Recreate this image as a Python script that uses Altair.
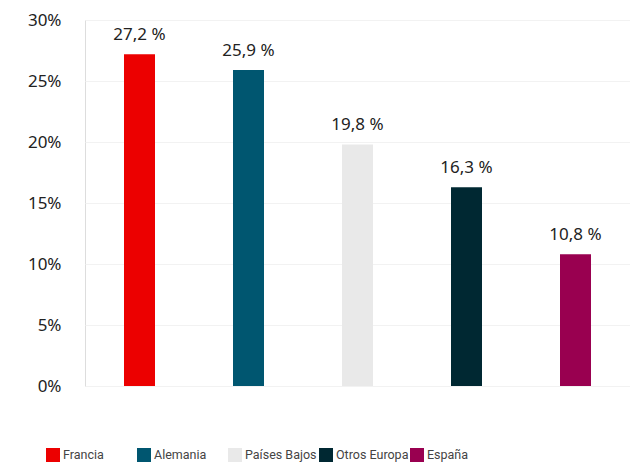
import altair as alt
import pandas as pd

paises = ["Francia", "Alemania", "Países Bajos", "Otros Europa", "España"]
valores = [27.2, 25.9, 19.8, 16.3, 10.8]
colores = ["#ec0000", "#005670", "#e9e9e9", "#002832", "#990050"]
ticks_y = [0, 5, 10, 15, 20, 25, 30]

df = pd.DataFrame({"pais": paises, "valor": valores})

base = alt.Chart(df).transform_calculate(
    etiqueta="replace(format(datum.valor, '.1f'), '.', ',') + ' %'"
)

x = alt.X("pais:N", sort=paises, axis=None)
y = alt.Y("valor:Q",
          scale=alt.Scale(domain=[0, 30], nice=False),
          axis=alt.Axis(values=ticks_y, title=None, domain=False, ticks=False,
                        labelExpr="datum.value + '%'", labelFontSize=17,
                        labelFont="Noto Sans", labelColor="#222222", labelPadding=24,
                        grid=True, gridColor="#f2f2f2", gridWidth=1))

bars = base.mark_bar(size=31).encode(
    x=x,
    y=y,
    color=alt.Color("pais:N", sort=paises,
                    scale=alt.Scale(domain=paises, range=colores),
                    legend=alt.Legend(title=None, orient="none", legendX=-39, legendY=428,
                                      direction="horizontal", columns=5, gridAlign="all",
                                      symbolType="square", symbolSize=196, symbolStrokeWidth=0,
                                      symbolOffset=0, labelOffset=3,
                                      labelFont="Roboto", labelFontSize=12.5,
                                      labelColor="#444444", columnPadding=1,
                                      labelLimit=200)),
)

labels = base.mark_text(dy=-19, fontSize=17, font="Noto Sans", color="#222222").encode(
    x=x, y=y, text="etiqueta:N"
)

chart = (bars + labels).properties(
    width=545, height=366,
    autosize=alt.AutoSizeParams(type="none"),
    padding={"left": 77, "top": 12, "right": 0, "bottom": 78},
).configure_view(stroke=None).configure(background="white")

chart.save("out.html", embed_options={"renderer": "svg", "actions": False})
